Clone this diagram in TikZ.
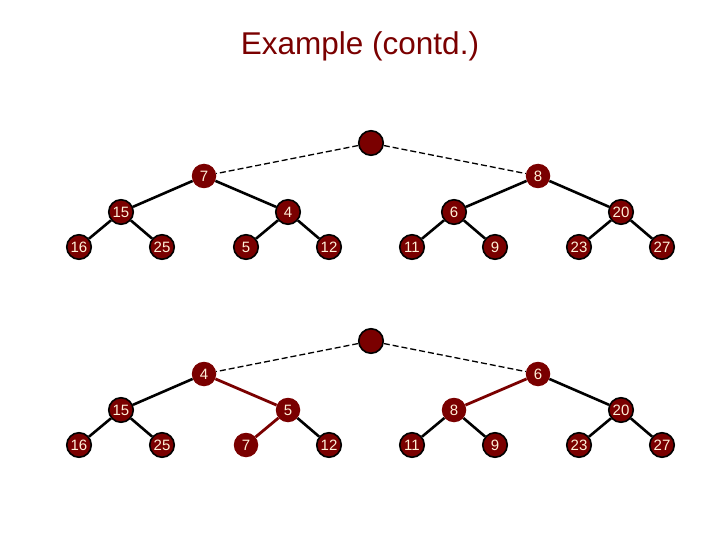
\documentclass[tikz,border=0pt]{standalone}
\usepackage{fontspec}
\setmainfont{Liberation Sans}
\begin{document}
\begin{tikzpicture}[x=1pt,y=-1pt,
  nd/.style={circle,fill=dred,inner sep=0pt,minimum size=24.5pt,text=cream,font=\fontsize{15}{15}\selectfont},
  bnd/.style={nd,draw=black,line width=1.6pt},
  edge/.style={line width=2.6pt,black},
  redge/.style={line width=2.8pt,dred},
  dedge/.style={line width=1.3pt,black,dash pattern=on 6pt off 3pt}]
\definecolor{dred}{HTML}{7A0000}
\definecolor{cream}{HTML}{FFF0D8}
\path[use as bounding box] (0,0) rectangle (720,540);
\node[text=dred,font=\fontsize{31.5}{32}\selectfont] (title) at (360,46) {Example (contd.)};
% top tree
\node[bnd] (r1) at (371,143) {};
\node[nd] (a7) at (204,176) {7};
\node[nd] (a8) at (538,176) {8};
\node[bnd] (a15) at (121,212) {15};
\node[bnd] (a4) at (288,212) {4};
\node[bnd] (a6) at (454,212) {6};
\node[bnd] (a20) at (621,212) {20};
\node[bnd] (a16) at (79,247) {16};
\node[bnd] (a25) at (162,247) {25};
\node[bnd] (a5) at (246,247) {5};
\node[bnd] (a12) at (329,247) {12};
\node[bnd] (a11) at (412,247) {11};
\node[bnd] (a9) at (495,247) {9};
\node[bnd] (a23) at (579,247) {23};
\node[bnd] (a27) at (662,247) {27};
% bottom tree
\node[bnd] (r2) at (371,341) {};
\node[nd] (b4) at (204,374) {4};
\node[nd] (b6) at (538,374) {6};
\node[bnd] (b15) at (121,410) {15};
\node[nd] (b5) at (288,410) {5};
\node[nd] (b8) at (454,410) {8};
\node[bnd] (b20) at (621,410) {20};
\node[bnd] (b16) at (79,445) {16};
\node[bnd] (b25) at (162,445) {25};
\node[nd] (b7) at (246,445) {7};
\node[bnd] (b12) at (329,445) {12};
\node[bnd] (b11) at (412,445) {11};
\node[bnd] (b9) at (495,445) {9};
\node[bnd] (b23) at (579,445) {23};
\node[bnd] (b27) at (662,445) {27};
% edges top
\draw[dedge] (r1) -- (a7);
\draw[dedge] (r1) -- (a8);
\draw[edge] (a7) -- (a15);
\draw[edge] (a7) -- (a4);
\draw[edge] (a8) -- (a6);
\draw[edge] (a8) -- (a20);
\draw[edge] (a15) -- (a16);
\draw[edge] (a15) -- (a25);
\draw[edge] (a4) -- (a5);
\draw[edge] (a4) -- (a12);
\draw[edge] (a6) -- (a11);
\draw[edge] (a6) -- (a9);
\draw[edge] (a20) -- (a23);
\draw[edge] (a20) -- (a27);
% edges bottom
\draw[dedge] (r2) -- (b4);
\draw[dedge] (r2) -- (b6);
\draw[edge] (b4) -- (b15);
\draw[redge] (b4) -- (b5);
\draw[redge] (b6) -- (b8);
\draw[edge] (b6) -- (b20);
\draw[edge] (b15) -- (b16);
\draw[edge] (b15) -- (b25);
\draw[redge] (b5) -- (b7);
\draw[edge] (b5) -- (b12);
\draw[edge] (b8) -- (b11);
\draw[edge] (b8) -- (b9);
\draw[edge] (b20) -- (b23);
\draw[edge] (b20) -- (b27);
\end{tikzpicture}
\end{document}
